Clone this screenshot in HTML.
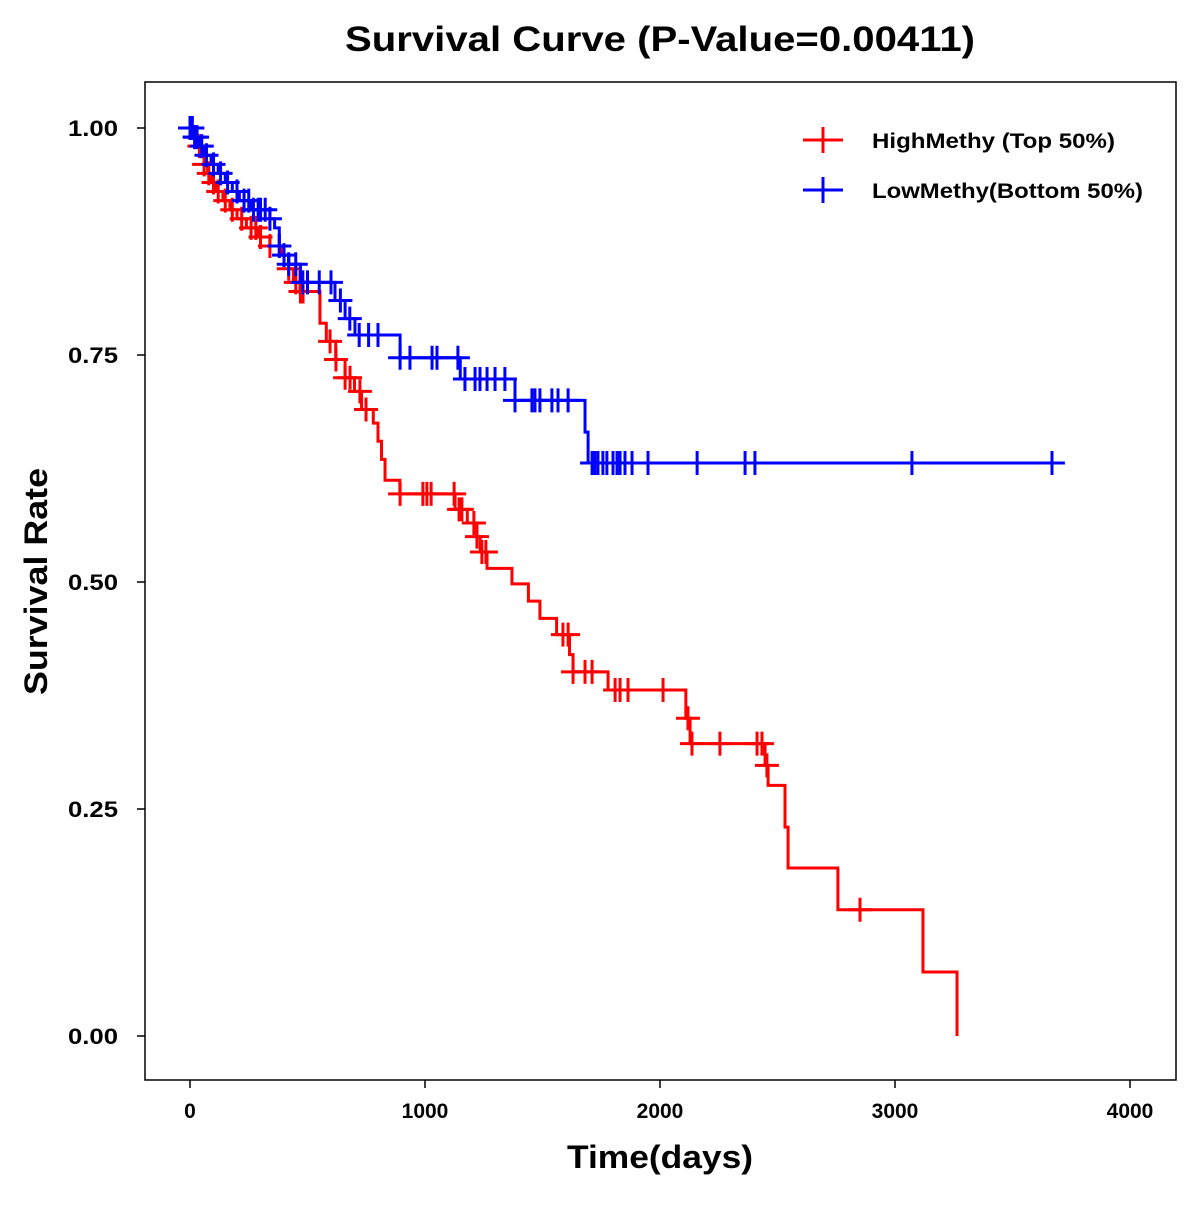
<!DOCTYPE html>
<html><head><meta charset="utf-8"><style>
html,body{margin:0;padding:0;background:#fff;}
svg text{font-family:"Liberation Sans",Arial,sans-serif;font-weight:bold;}
</style></head><body>
<svg id="chart" width="1200" height="1200" viewBox="0 0 1200 1200" xmlns="http://www.w3.org/2000/svg">
<rect width="1200" height="1200" fill="#fff"/>
<text x="345" y="51" font-size="35" textLength="630" lengthAdjust="spacingAndGlyphs">Survival Curve (P-Value=0.00411)</text>
<rect x="145" y="82" width="1031" height="998" fill="none" stroke="#000" stroke-width="1.5"/>
<g id="axes"></g>
<g id="series"></g>
<text x="567" y="1168" font-size="32" textLength="186" lengthAdjust="spacingAndGlyphs">Time(days)</text>
<text transform="translate(47,695) rotate(-90)" font-size="32" textLength="227" lengthAdjust="spacingAndGlyphs">Survival Rate</text>
<g>
<g>
<line x1="803" y1="140" x2="843" y2="140" stroke="#f00" stroke-width="3"/><line x1="823" y1="127" x2="823" y2="153" stroke="#f00" stroke-width="3"/>
<text x="872" y="148" font-size="21" textLength="243" lengthAdjust="spacingAndGlyphs">HighMethy (Top 50%)</text></g>
<g>
<line x1="803" y1="190" x2="843" y2="190" stroke="#00f" stroke-width="3"/><line x1="823" y1="177" x2="823" y2="203" stroke="#00f" stroke-width="3"/>
<text x="872" y="198" font-size="21" textLength="271" lengthAdjust="spacingAndGlyphs">LowMethy(Bottom 50%)</text></g>
</g>
</svg>
<script>
const xTicks=[0,1000,2000,3000,4000];
const yTicks=[0,0.25,0.5,0.75,1.0];
const yTickLabels=["0.00","0.25","0.50","0.75","1.00"];
const highTimes=[0,15,30,45,60,75,90,110,140,170,200,240,290,340,390,420,440,470,553,580,620,660,700,730,780,800,815,830,893,1128,1180,1220,1235,1264,1370,1440,1489,1560,1615,1630,1779,2110,2128,2447,2460,2532,2545,2757,3119,3264];
const highSurv=[1,0.99,0.98,0.97,0.96,0.95,0.94,0.93,0.92,0.91,0.90,0.89,0.88,0.87,0.86,0.845,0.83,0.82,0.785,0.765,0.745,0.725,0.71,0.69,0.675,0.655,0.635,0.612,0.597,0.58,0.565,0.55,0.533,0.515,0.498,0.479,0.46,0.442,0.42,0.401,0.381,0.35,0.322,0.298,0.276,0.23,0.185,0.139,0.0705,0];
const highEnd=3264;
const highCensor=[20,40,60,80,100,120,150,180,220,260,280,300,340,380,420,450,470,468,481,596,621,660,681,723,749,894,991,1008,1026,1124,1145,1157,1208,1221,1242,1259,1587,1609,1630,1681,1711,1809,1830,1864,2013,2119,2136,2255,2413,2434,2455,2851];
const lowTimes=[0,20,40,60,90,120,150,180,210,260,340,360,380,400,420,470,617,660,702,894,1150,1383,1681,1694];
const lowSurv=[1,0.99,0.98,0.97,0.96,0.95,0.94,0.93,0.92,0.91,0.90,0.89,0.87,0.86,0.85,0.83,0.81,0.79,0.772,0.747,0.7236,0.70,0.665,0.631];
const lowEnd=3723;
const lowCensor=[0,10,20,30,50,70,100,130,160,200,230,250,270,290,300,320,340,380,400,420,450,480,500,550,600,640,680,720,760,800,894,936,1030,1051,1140,1170,1213,1234,1264,1298,1340,1383,1455,1468,1489,1540,1566,1609,1711,1723,1736,1757,1774,1800,1817,1830,1851,1881,1949,2158,2362,2404,3072,3668];
const X=t=>190+t*0.235;
const Y=s=>1036-s*908;
const NS="http://www.w3.org/2000/svg";
function mk(tag,attrs,parent){const e=document.createElementNS(NS,tag);for(const k in attrs)e.setAttribute(k,attrs[k]);parent.appendChild(e);return e;}
const axes=document.getElementById('axes');
xTicks.forEach(t=>{
  const l=mk('line',{x1:X(t),x2:X(t),y1:1080,y2:1088,stroke:'#000','stroke-width':1.5},axes);
  
  
  const tx=mk('text',{x:X(t),y:1118,'text-anchor':'middle','font-size':21},axes);
  tx.textContent=t;
  
  
});
yTicks.forEach((v,i)=>{
  const l=mk('line',{x1:137,x2:145,y1:Y(v),y2:Y(v),stroke:'#000','stroke-width':1.5},axes);
  
  
  const tx=mk('text',{x:68,y:Y(v)+8,'font-size':22,textLength:50,lengthAdjust:'spacingAndGlyphs'},axes);
  tx.textContent=yTickLabels[i];
  
  
});
const series=document.getElementById('series');
function survAt(times,surv,t){let s=surv[0];for(let i=0;i<times.length;i++){if(times[i]<=t)s=surv[i];}return s;}
function draw(times,surv,end,cens,color,name){
  const g=mk('g',{},series);
  
  
  let d='M'+X(times[0])+','+Y(surv[0]);
  for(let i=1;i<times.length;i++){d+=' H'+X(times[i])+' V'+Y(surv[i]);}
  d+=' H'+X(Math.max(end,times[times.length-1]));
  const p=mk('path',{d:d,fill:'none',stroke:color,'stroke-width':3},g);
  
  
  cens.forEach(t=>{
    const s=survAt(times,surv,t);
    const c=mk('path',{d:'M'+(X(t)-12)+','+Y(s)+' H'+(X(t)+12)+' M'+X(t)+','+(Y(s)-12)+' V'+(Y(s)+12),stroke:color,'stroke-width':3,fill:'none'},g);
    
    
  });
}
draw(highTimes,highSurv,highEnd,highCensor,'#f00','high-methy');
draw(lowTimes,lowSurv,lowEnd,lowCensor,'#00f','low-methy');
</script>
</body></html>
